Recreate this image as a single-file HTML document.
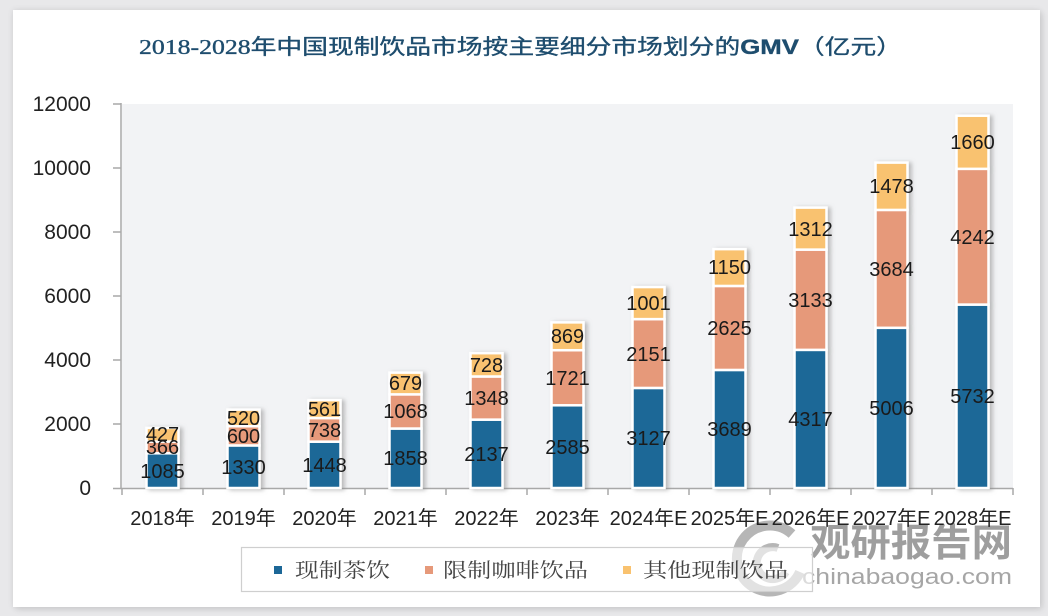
<!DOCTYPE html>
<html><head><meta charset="utf-8">
<style>
html,body{margin:0;padding:0;background:#e8e8ea;}
body{width:1048px;height:616px;overflow:hidden;position:relative;}
.card{position:absolute;left:13px;top:10px;width:1027px;height:597px;background:#fff;box-shadow:0 0 6px rgba(0,0,0,0.10),3px 3px 6px rgba(0,0,0,0.08);}
svg{position:absolute;left:0;top:0;}
</style></head><body>
<div class="card"></div>
<svg width="1048" height="616" viewBox="0 0 1048 616" xmlns="http://www.w3.org/2000/svg">
<defs>
<filter id="sh" x="-30%" y="-10%" width="160%" height="120%">
<feDropShadow dx="3" dy="1" stdDeviation="2" flood-color="#888" flood-opacity="0.55"/>
</filter>
</defs>
<!-- title -->
<text x="139" y="54" font-size="21" fill="#1e4d6e" stroke="#1e4d6e" stroke-width="0.35" textLength="763" lengthAdjust="spacingAndGlyphs" font-family="'Liberation Serif','Noto Sans CJK SC',serif">2018-2028年中国现制饮品市场按主要细分市场划分的<tspan font-family="'Liberation Sans',sans-serif" font-weight="bold">GMV</tspan>（亿元）</text>

<!-- plot bg -->
<rect x="122" y="104" width="891" height="384" fill="#f2f3f5"/>

<!-- axes -->
<g stroke="#a8a8a8" stroke-width="1.5" fill="none">
<line x1="121" y1="103" x2="121" y2="489"/>
<line x1="113" y1="488.5" x2="1013" y2="488.5"/>
<line x1="113" y1="104" x2="121" y2="104"/>
<line x1="113" y1="168" x2="121" y2="168"/>
<line x1="113" y1="232" x2="121" y2="232"/>
<line x1="113" y1="296" x2="121" y2="296"/>
<line x1="113" y1="360" x2="121" y2="360"/>
<line x1="113" y1="424" x2="121" y2="424"/>
<line x1="122" y1="488" x2="122" y2="495"/>
<line x1="203" y1="488" x2="203" y2="495"/>
<line x1="284" y1="488" x2="284" y2="495"/>
<line x1="365" y1="488" x2="365" y2="495"/>
<line x1="446" y1="488" x2="446" y2="495"/>
<line x1="527" y1="488" x2="527" y2="495"/>
<line x1="608" y1="488" x2="608" y2="495"/>
<line x1="689" y1="488" x2="689" y2="495"/>
<line x1="770" y1="488" x2="770" y2="495"/>
<line x1="851" y1="488" x2="851" y2="495"/>
<line x1="932" y1="488" x2="932" y2="495"/>
<line x1="1013" y1="488" x2="1013" y2="495"/>
</g>

<!-- y labels -->
<g font-family="'Liberation Sans',sans-serif" font-size="21" fill="#222" text-anchor="end">
<text x="91" y="111">12000</text>
<text x="91" y="175">10000</text>
<text x="91" y="239">8000</text>
<text x="91" y="303">6000</text>
<text x="91" y="367">4000</text>
<text x="91" y="431">2000</text>
<text x="91" y="495">0</text>
</g>

<!-- bars -->
<g stroke="#fff" stroke-width="2.5">
<g filter="url(#sh)">
<rect x="146.5" y="453.28" width="32" height="34.72" fill="#1c6797"/>
<rect x="146.5" y="441.57" width="32" height="11.71" fill="#e6997a"/>
<rect x="146.5" y="427.9" width="32" height="13.67" fill="#f9c26f"/>
</g>
<g filter="url(#sh)">
<rect x="227.5" y="445.44" width="32" height="42.56" fill="#1c6797"/>
<rect x="227.5" y="426.24" width="32" height="19.2" fill="#e6997a"/>
<rect x="227.5" y="409.6" width="32" height="16.64" fill="#f9c26f"/>
</g>
<g filter="url(#sh)">
<rect x="308.5" y="441.66" width="32" height="46.34" fill="#1c6797"/>
<rect x="308.5" y="418.05" width="32" height="23.61" fill="#e6997a"/>
<rect x="308.5" y="400.1" width="32" height="17.95" fill="#f9c26f"/>
</g>
<g filter="url(#sh)">
<rect x="389.5" y="428.54" width="32" height="59.46" fill="#1c6797"/>
<rect x="389.5" y="394.37" width="32" height="34.17" fill="#e6997a"/>
<rect x="389.5" y="372.64" width="32" height="21.73" fill="#f9c26f"/>
</g>
<g filter="url(#sh)">
<rect x="470.5" y="419.62" width="32" height="68.38" fill="#1c6797"/>
<rect x="470.5" y="376.48" width="32" height="43.14" fill="#e6997a"/>
<rect x="470.5" y="353.18" width="32" height="23.3" fill="#f9c26f"/>
</g>
<g filter="url(#sh)">
<rect x="551.5" y="405.28" width="32" height="82.72" fill="#1c6797"/>
<rect x="551.5" y="350.21" width="32" height="55.07" fill="#e6997a"/>
<rect x="551.5" y="322.4" width="32" height="27.81" fill="#f9c26f"/>
</g>
<g filter="url(#sh)">
<rect x="632.5" y="387.94" width="32" height="100.06" fill="#1c6797"/>
<rect x="632.5" y="319.11" width="32" height="68.83" fill="#e6997a"/>
<rect x="632.5" y="287.08" width="32" height="32.03" fill="#f9c26f"/>
</g>
<g filter="url(#sh)">
<rect x="713.5" y="369.95" width="32" height="118.05" fill="#1c6797"/>
<rect x="713.5" y="285.95" width="32" height="84" fill="#e6997a"/>
<rect x="713.5" y="249.15" width="32" height="36.8" fill="#f9c26f"/>
</g>
<g filter="url(#sh)">
<rect x="794.5" y="349.86" width="32" height="138.14" fill="#1c6797"/>
<rect x="794.5" y="249.6" width="32" height="100.26" fill="#e6997a"/>
<rect x="794.5" y="207.62" width="32" height="41.98" fill="#f9c26f"/>
</g>
<g filter="url(#sh)">
<rect x="875.5" y="327.81" width="32" height="160.19" fill="#1c6797"/>
<rect x="875.5" y="209.92" width="32" height="117.89" fill="#e6997a"/>
<rect x="875.5" y="162.62" width="32" height="47.3" fill="#f9c26f"/>
</g>
<g filter="url(#sh)">
<rect x="956.5" y="304.58" width="32" height="183.42" fill="#1c6797"/>
<rect x="956.5" y="168.84" width="32" height="135.74" fill="#e6997a"/>
<rect x="956.5" y="115.72" width="32" height="53.12" fill="#f9c26f"/>
</g>
</g>

<!-- data labels -->
<g font-family="'Liberation Sans',sans-serif" font-size="20" fill="#1a1a1a" text-anchor="middle">
<text x="162.5" y="478">1085</text><text x="162.5" y="454">366</text><text x="162.5" y="441">427</text>
<text x="243.5" y="474">1330</text><text x="243.5" y="443">600</text><text x="243.5" y="425">520</text>
<text x="324.5" y="472">1448</text><text x="324.5" y="437">738</text><text x="324.5" y="416">561</text>
<text x="405.5" y="465">1858</text><text x="405.5" y="418">1068</text><text x="405.5" y="390">679</text>
<text x="486.5" y="461">2137</text><text x="486.5" y="405">1348</text><text x="486.5" y="372">728</text>
<text x="567.5" y="454">2585</text><text x="567.5" y="385">1721</text><text x="567.5" y="343">869</text>
<text x="648.5" y="445">3127</text><text x="648.5" y="361">2151</text><text x="648.5" y="310">1001</text>
<text x="729.5" y="436">3689</text><text x="729.5" y="335">2625</text><text x="729.5" y="274">1150</text>
<text x="810.5" y="426">4317</text><text x="810.5" y="307">3133</text><text x="810.5" y="236">1312</text>
<text x="891.5" y="415">5006</text><text x="891.5" y="276">3684</text><text x="891.5" y="193">1478</text>
<text x="972.5" y="403">5732</text><text x="972.5" y="244">4242</text><text x="972.5" y="149">1660</text>
</g>

<!-- watermark -->
<g opacity="0.72">
<path d="M 792 534 A 33 33 0 1 0 800 572" fill="none" stroke="#9a9a9a" stroke-width="10"/>
<path d="M 778 548 A 16 16 0 1 0 786 572" fill="none" stroke="#9a9a9a" stroke-width="8"/>
<text x="810" y="556" font-family="'Liberation Sans','Noto Sans CJK SC',sans-serif" font-size="38" font-weight="bold" fill="#7a7a7a" textLength="202" lengthAdjust="spacingAndGlyphs">观研报告网</text>
<text x="802" y="584" font-family="'Liberation Sans',sans-serif" font-size="22" fill="#858585" textLength="210" lengthAdjust="spacingAndGlyphs">chinabaogao.com</text>
</g>

<!-- x labels -->
<g font-family="'Liberation Sans','Noto Sans CJK SC',sans-serif" font-size="20" fill="#222" text-anchor="middle">
<text x="162.5" y="525">2018年</text>
<text x="243.5" y="525">2019年</text>
<text x="324.5" y="525">2020年</text>
<text x="405.5" y="525">2021年</text>
<text x="486.5" y="525">2022年</text>
<text x="567.5" y="525">2023年</text>
<text x="648.5" y="525">2024年E</text>
<text x="729.5" y="525">2025年E</text>
<text x="810.5" y="525">2026年E</text>
<text x="891.5" y="525">2027年E</text>
<text x="972.5" y="525">2028年E</text>
</g>

<!-- legend -->
<rect x="241.5" y="547.5" width="571" height="44" fill="#fff" fill-opacity="0.6" stroke="#cfcfcf" stroke-width="1.2"/>
<rect x="274" y="566" width="8" height="8" fill="#1c6797"/>
<rect x="425" y="566" width="8" height="8" fill="#e6997a"/>
<rect x="623" y="566" width="8" height="8" fill="#f9c26f"/>
<g font-family="'Liberation Serif','Noto Serif CJK SC',serif" font-size="20" fill="#444">
<text x="295" y="577" textLength="95" lengthAdjust="spacingAndGlyphs">现制茶饮</text>
<text x="443" y="577" textLength="145" lengthAdjust="spacingAndGlyphs">限制咖啡饮品</text>
<text x="643" y="577" textLength="145" lengthAdjust="spacingAndGlyphs">其他现制饮品</text>
</g>
</svg>
</body></html>
